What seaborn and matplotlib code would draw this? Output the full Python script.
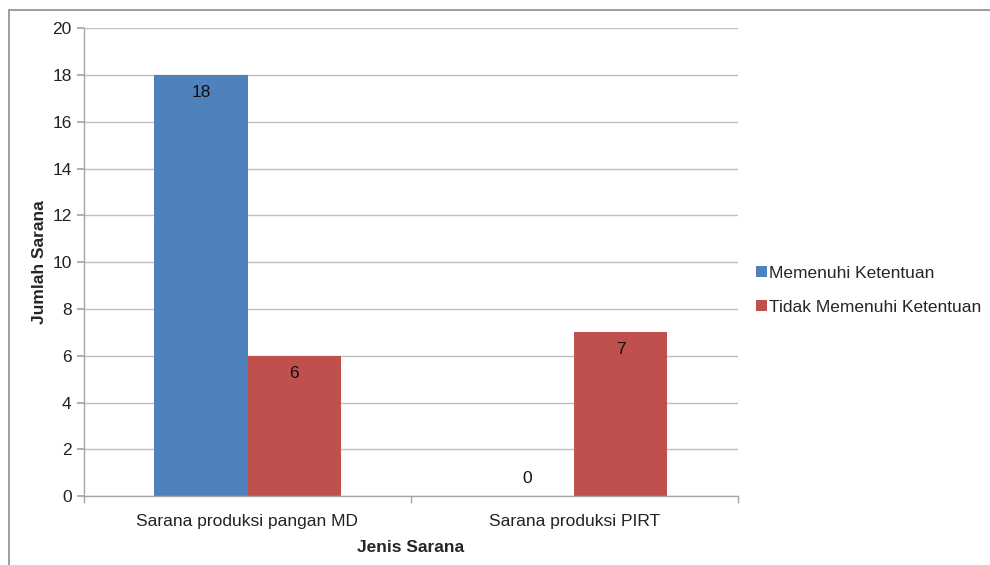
import pandas as pd
import matplotlib.pyplot as plt
import matplotlib.patches as mpatches
import seaborn as sns

# ===== DATA =====
kategori = ["Sarana produksi pangan MD", "Sarana produksi PIRT"]
seri = ["Memenuhi Ketentuan", "Tidak Memenuhi Ketentuan"]
memenuhi = [18, 0]
tidak_memenuhi = [6, 7]
warna = ["#4F81BD", "#C0504D"]

df = pd.DataFrame({
    "Jenis Sarana": kategori * 2,
    "Jumlah Sarana": memenuhi + tidak_memenuhi,
    "Status": [seri[0]] * 2 + [seri[1]] * 2,
})

# ===== STYLE =====
sns.set_theme(style="white")
plt.rcParams["font.family"] = ["Liberation Sans", "DejaVu Sans"]

fig = plt.figure(figsize=(9.9, 5.65), dpi=100)
ax = fig.add_axes([0.085, 0.122, 0.66, 0.828])

# outer chart border
fig.patches.append(mpatches.Rectangle((0.009, -0.1), 1.2, 1.082, transform=fig.transFigure,
                                      fill=False, edgecolor="#8C8C8C", linewidth=1.2))

sns.barplot(data=df, x="Jenis Sarana", y="Jumlah Sarana", hue="Status",
            palette=warna, width=0.57, saturation=1, linewidth=0, ax=ax, legend=True)

ax.set_ylim(0, 20)
ax.set_xlim(-0.5, 1.5)
ax.set_yticks(range(0, 21, 2))
ax.yaxis.grid(True, color="#BFBFBF", linewidth=1)
ax.set_axisbelow(True)
for s in ["top", "right"]:
    ax.spines[s].set_visible(False)
for s in ["left", "bottom"]:
    ax.spines[s].set_color("#A6A6A6")
    ax.spines[s].set_linewidth(1)

ax.tick_params(axis="y", which="major", left=True, length=5, color="#A6A6A6",
               labelsize=12.5, labelcolor="#222222", pad=4)
ax.tick_params(axis="x", which="major", length=0, labelsize=12.5, labelcolor="#222222", pad=13)
ax.set_xticks([-0.5, 0.5, 1.5], minor=True)
ax.tick_params(axis="x", which="minor", bottom=True, length=5, color="#A6A6A6")

ax.set_xlabel("Jenis Sarana", fontsize=12.5, fontweight="bold", labelpad=8)
ax.set_ylabel("Jumlah Sarana", fontsize=12.5, fontweight="bold", labelpad=4)

# data labels
for cont in ax.containers:
    for bar in cont:
        h = bar.get_height()
        xc = bar.get_x() + bar.get_width() / 2
        off = -12.5 if h > 0 else 13
        ax.annotate(f"{h:.0f}", (xc, h), xytext=(0, off), textcoords="offset points",
                    ha="center", va="center", fontsize=12.5, color="#111111")

leg = ax.legend(loc="center left", bbox_to_anchor=(1.01, 0.44), frameon=False,
                fontsize=12.5, handlelength=0.6, handleheight=0.6, handletextpad=0.15,
                labelspacing=1.1, borderpad=0.2)

plt.savefig("out.png", dpi=100)
